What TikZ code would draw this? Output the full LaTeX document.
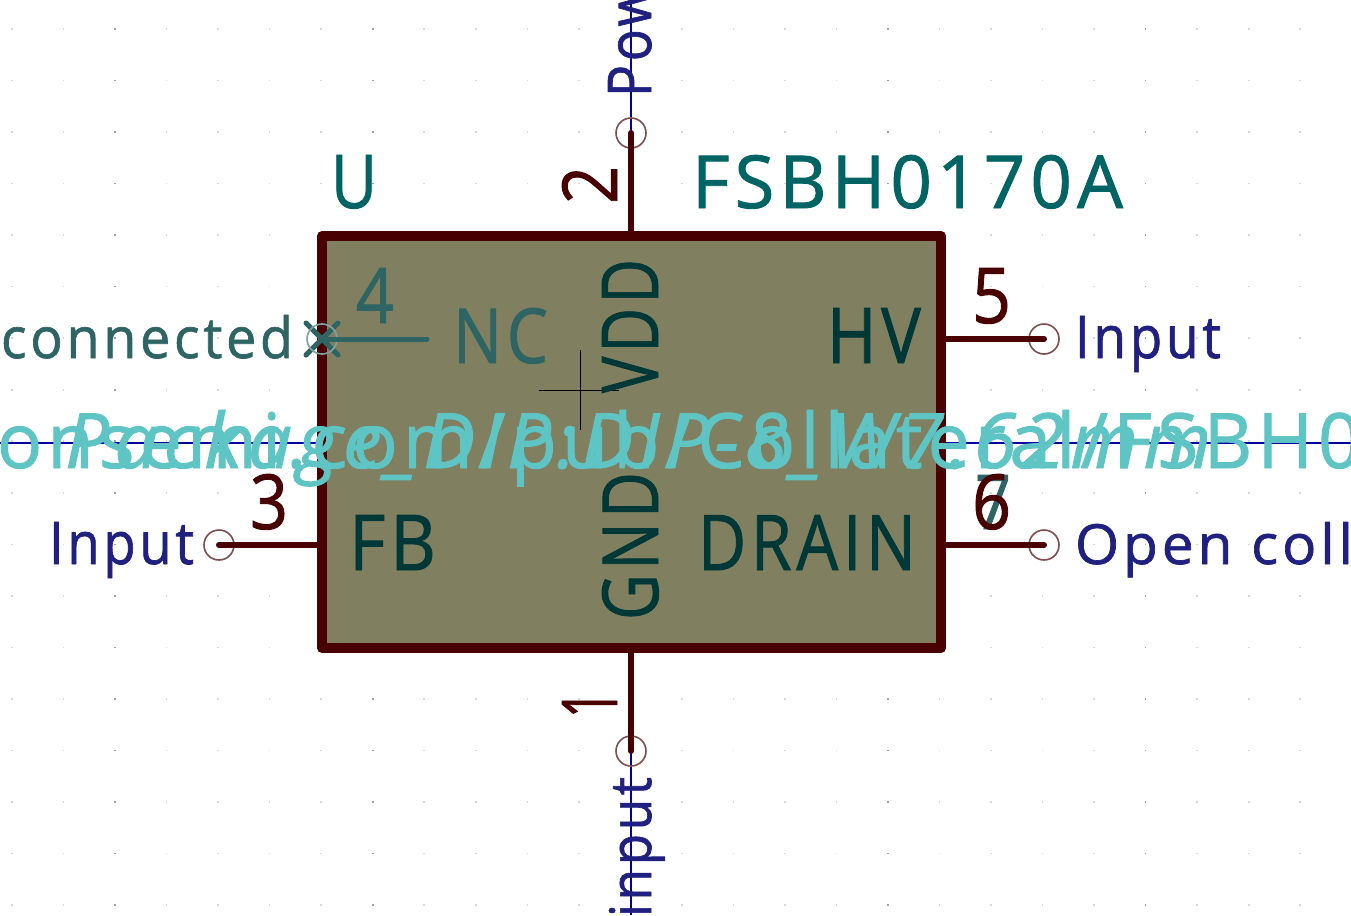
\documentclass[tikz,border=0pt]{standalone}
\usepackage{graphicx}
\usepackage{fontspec}
\newfontfamily\kf[LetterSpace=7,FakeBold=1.2]{Open Sans}
\definecolor{boxfill}{HTML}{807F60}
\definecolor{pinred}{HTML}{480000}
\definecolor{pincirc}{HTML}{7F4F4F}
\definecolor{refteal}{HTML}{006464}
\definecolor{dimteal}{HTML}{2F6464}
\definecolor{nameteal}{HTML}{003838}
\definecolor{etype}{HTML}{202080}
\definecolor{hidden}{HTML}{5EC4C4}
\definecolor{wire}{HTML}{0000A0}
\definecolor{griddot}{HTML}{D8D8D8}
\definecolor{griddark}{HTML}{A0A0A0}
\newcommand\fit[3]{\resizebox{#1pt}{#2pt}{\kf\fontsize{72}{80}\selectfont #3}}
\tikzset{
  lbl/.style={inner sep=0pt,outer sep=0pt,anchor=base west},
  vlbl/.style={lbl,rotate=90},
  symbox/.style={draw=pinred,fill=boxfill,line width=10pt,line join=round,minimum width=619pt,minimum height=412pt,inner sep=0pt,outer sep=0pt},
  pincircle/.style={circle,draw=pincirc,line width=1.6pt,minimum size=30pt,inner sep=0pt,outer sep=0pt},
  nccircle/.style={circle,draw=dimteal!60!white,line width=1.6pt,minimum size=30pt,inner sep=0pt,outer sep=0pt},
  pinline/.style={draw=pinred,line width=6pt,line cap=round},
  ncline/.style={draw=dimteal,line width=5pt,line cap=round},
  wireline/.style={draw=wire,line width=1.2pt},
}
\begin{document}
\begin{tikzpicture}[x=1pt,y=-1pt]
\clip (0,0) rectangle (1351,915);
\fill[white] (0,0) rectangle (1351,915);
% grid dots
\foreach \i in {0,...,26}{
  \foreach \j in {0,...,17}{
    \pgfmathtruncatemacro{\dk}{mod(\i,5)==2 ? 1 : 0}
    \ifnum\dk=1
      \fill[griddark] ({12+51.53*\i-0.8},{29+51.53*\j-0.8}) rectangle ++(1.6,1.6);
    \else
      \fill[griddot] ({12+51.53*\i-0.8},{29+51.53*\j-0.8}) rectangle ++(1.6,1.6);
    \fi
  }
}
% anchors of free wire ends
\coordinate (wT) at (631,0);
\coordinate (wB) at (631,915);
\coordinate (wL) at (0,443);
\coordinate (wR) at (1351,443);
\coordinate (boxL) at (322,443);
\coordinate (boxR) at (941,443);
\coordinate (nEnd) at (427,339);
% wires
\node[pincircle,draw=none] (c2h) at (631,133) {};
\node[pincircle,draw=none] (c1h) at (631,751) {};
\draw[wireline] (wT) -- (c2h.center);
\draw[wireline] (c1h.center) -- (wB);
\draw[wireline] (wL) -- (boxL);
\draw[wireline] (boxR) -- (wR);
% symbol body
\node[symbox] (box) at (631.5,442) {};
% pin ends
\node[pincircle] (c2) at (631,133) {};
\node[pincircle] (c1) at (631,751) {};
\node[pincircle] (c3) at (219,545) {};
\node[pincircle] (c5) at (1044,339) {};
\node[pincircle] (c6) at (1044,545) {};
\draw[pinline] (c2.center) -- (c2.center |- box.north);
\draw[pinline] (c1.center) -- (c1.center |- box.south);
\draw[pinline] (c3.center) -- (c3.center -| box.west);
\draw[pinline] (c5.center) -- (c5.center -| box.east);
\draw[pinline] (c6.center) -- (c6.center -| box.east);
% not-connected pin
\draw[draw=dimteal,line width=5pt,line cap=round] (306,323) -- (338,355) (306,355) -- (338,323);
\node[nccircle] (c4) at (322,339) {};
\draw[ncline] (c4.center) -- (nEnd);
% crosshair
\draw[black,line width=0.8pt] (539,390) -- (619,390) (580,350) -- (580,430);
% reference and value
\node[lbl,text=refteal] (ref) at (331,208) {\fit{46}{53}{U}};
\node[lbl,text=refteal] (val) at (692,208) {\fit{431}{53}{FSBH0170A}};
% pin numbers
\node[vlbl,text=pinred] (n2) at (617,204) {\fit{38}{55}{2}};
\node[vlbl,text=pinred] (n1) at (617,718) {\fit{28}{55}{1}};
\node[lbl,text=dimteal] (n4) at (356,323) {\fit{38}{55}{4}};
\node[lbl,text=dimteal] (n7) at (975,529) {\fit{36}{54}{7}};
\node[lbl,text=pinred] (n5) at (972,323) {\fit{39}{55}{5}};
\node[lbl,text=pinred] (n3) at (250,529) {\fit{38}{55}{3}};
\node[lbl,text=pinred] (n6) at (972,529) {\fit{39}{55}{6}};
% pin names
\node[lbl,text=dimteal] (nNC) at (453,363) {\fit{95}{55}{NC}};
\node[lbl,text=nameteal] (nHV) at (827,363) {\fit{94}{55}{HV}};
\node[lbl,text=nameteal] (nFB) at (349,570) {\fit{87}{55}{FB}};
\node[lbl,text=nameteal] (nDR) at (698,570) {\fit{218}{55}{DRAIN}};
\node[vlbl,text=nameteal] (nVD) at (658,393) {\fit{134}{56}{VDD}};
\node[vlbl,text=nameteal] (nGN) at (658,620) {\fit{148}{56}{GND}};
% electrical types
\node[lbl,text=dimteal] (tNC) at (1,358) {\fit{292}{43}{connected}};
\node[lbl,text=etype] (t3) at (49,564) {\fit{145}{42}{Input}};
\node[lbl,text=etype] (t5) at (1075,358) {\fit{146}{42}{Input}};
\node[lbl,text=etype] (t6) at (1075,564) {\fit{278}{42}{Open coll}};
\node[vlbl,text=etype] (t2) at (651,97) {\fit{112}{43}{Pow}};
\node[vlbl,text=etype] (t1) at (651,917) {\fit{140}{42}{input}};
% hidden fields
\node[lbl,text=hidden] (fp) at (-3,468) {\fit{1364}{58}{onsemi.com/pub/Collateral/FSBH0}};
\node[lbl,text=hidden] (ds) at (65,468) {\fit{1146}{58}{\itshape Package\_DIP:DIP-8\_W7.62mm}};
\end{tikzpicture}
\end{document}
